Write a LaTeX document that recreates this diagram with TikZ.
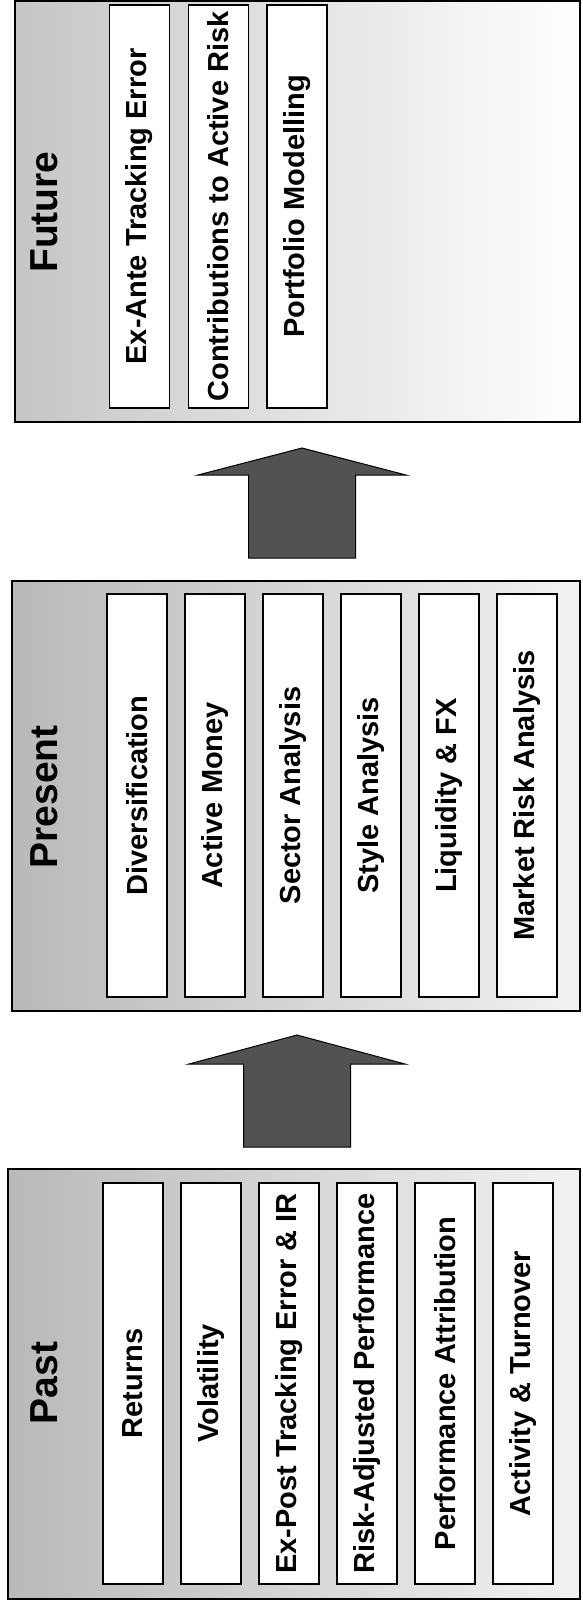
\documentclass[tikz,border=0pt]{standalone}
\usepackage{fontspec}
\setmainfont{Liberation Sans}
\begin{document}
\begin{tikzpicture}[x=1pt,y=-1pt,
  panel/.style={draw=black, line width=1.4pt, left color=gray!55, right color=gray!10, inner sep=0pt},
  fpanel/.style={panel, left color=gray!45, right color=white},
  item/.style={draw=black, line width=1.4pt, fill=white, rotate=90, minimum height=60pt, inner sep=0pt,
    font=\fontsize{29}{31}\selectfont\bfseries},
  ttl/.style={rotate=90, inner sep=0pt, font=\fontsize{39}{41}\selectfont\bfseries},
  blockarrow/.style={draw=black, line width=1pt, fill=black!68}]
\useasboundingbox (0,0) rectangle (582,1612);
% panels
\node[panel, minimum width=572pt, minimum height=430pt] (past) at (294,1384) {};
\node[panel, minimum width=568pt, minimum height=430pt] (present) at (296,796) {};
\node[fpanel, minimum width=565pt, minimum height=421pt] (future) at (297.5,211.5) {};
% titles
\node[ttl] (tpast) at (44,1383) {Past};
\node[ttl] (tpresent) at (44,797) {Present};
\node[ttl] (tfuture) at (44,212) {Future};
% past items
\begin{scope}[every node/.append style={minimum width=401pt}]
\node[item] (p1) at (133,1383.5) {Returns};
\node[item] (p2) at (211,1383.5) {Volatility};
\node[item] (p3) at (289,1383.5) {Ex-Post Tracking Error \& IR};
\node[item] (p4) at (367,1383.5) {Risk-Adjusted Performance};
\node[item] (p5) at (445,1383.5) {Performance Attribution};
\node[item] (p6) at (523,1383.5) {Activity \& Turnover};
\end{scope}
% present items
\begin{scope}[every node/.append style={minimum width=403pt}]
\node[item] (r1) at (137,795.5) {Diversification};
\node[item] (r2) at (215,795.5) {Active Money};
\node[item] (r3) at (293,795.5) {Sector Analysis};
\node[item] (r4) at (371,795.5) {Style Analysis};
\node[item] (r5) at (449,795.5) {Liquidity \& FX};
\node[item] (r6) at (527,795.5) {Market Risk Analysis};
\end{scope}
% future items
\begin{scope}[every node/.append style={minimum width=403pt}]
\node[item] (f1) at (139.5,206.5) {Ex-Ante Tracking Error};
\node[item] (f2) at (218.5,206.5) {Contributions to Active Risk};
\node[item] (f3) at (297,206.5) {Portfolio Modelling};
\end{scope}
% block arrows
\draw[blockarrow] (243.5,1147) -- (243.5,1064) -- (189,1064) -- (297,1035) -- (405,1064) -- (350.5,1064) -- (350.5,1147) -- cycle;
\draw[blockarrow] (248.5,558) -- (248.5,475) -- (198,475) -- (302,448) -- (406,475) -- (355.5,475) -- (355.5,558) -- cycle;
\end{tikzpicture}
\end{document}
